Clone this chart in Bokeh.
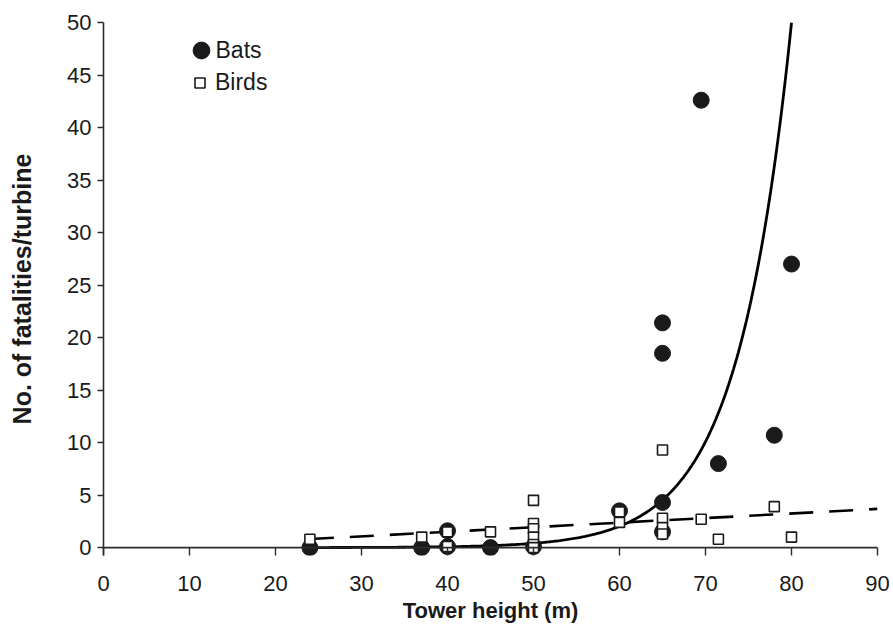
import numpy as np
from bokeh.plotting import figure
from bokeh.models import Range1d, Legend, LegendItem, FixedTicker, Span, Label
from bokeh.embed import file_html
from bokeh.resources import INLINE

# ---- data ----
bat_height = [24, 37, 40, 40, 45, 50, 60, 65, 65, 65, 65, 69.5, 71.5, 78, 80]
bat_fatal = [0.0, 0.0, 1.6, 0.1, 0.0, 0.1, 3.5, 1.5, 4.3, 18.5, 21.4, 42.6, 8.0, 10.7, 27.0]

bird_height = [24, 37, 40, 40, 45, 50, 50, 50, 50, 50, 50, 60, 60, 65, 65, 65, 65, 69.5, 71.5, 78, 80]
bird_fatal = [0.8, 1.0, 1.5, 0.1, 1.5, 4.5, 2.3, 1.8, 1.0, 0.3, 0.0, 3.4, 2.4, 9.3, 2.8, 1.9, 1.3, 2.7, 0.8, 3.9, 1.0]

# fitted trend lines shown in the figure
bat_fit_a = 1.38e-4      # y = a * exp(b * x)
bat_fit_b = 0.16
bird_fit_slope = 0.0435  # y = slope * x + intercept
bird_fit_intercept = -0.23

x_ticks = [0, 10, 20, 30, 40, 50, 60, 70, 80, 90]
y_ticks = [0, 5, 10, 15, 20, 25, 30, 35, 40, 45, 50]
series_names = ["Bats", "Birds"]

FONT = "'Liberation Sans', Arial, sans-serif"
TXT = "#1a1a1a"
AX = "#2b2b2b"

p = figure(width=890, height=636, output_backend="svg", toolbar_location=None,
           x_range=Range1d(0, 90), y_range=Range1d(-0.75, 50),
           min_border_left=103, min_border_right=13, min_border_top=22, min_border_bottom=81)
p.outline_line_color = None
p.grid.visible = False
p.background_fill_color = "white"
p.border_fill_color = "white"

# x baseline at zero
p.add_layout(Span(location=0, dimension="width", line_color=AX, line_width=1.6))

# trend lines
x_bat = np.linspace(min(bat_height), np.log(50 / bat_fit_a) / bat_fit_b, 300)
y_bat = bat_fit_a * np.exp(bat_fit_b * x_bat)
p.line(x_bat, y_bat, line_color="black", line_width=2.8)

x_bird = np.array([min(bird_height), 90])
y_bird = bird_fit_slope * x_bird + bird_fit_intercept
p.line(x_bird, y_bird, line_color="black", line_width=2.6, line_dash="24 16")

# points
r_bats = p.scatter(bat_height, bat_fatal, marker="circle", size=16,
                   fill_color="#1a1a1a", line_color="#1a1a1a", line_width=1)
r_birds = p.scatter(bird_height, bird_fatal, marker="square", size=10,
                    fill_color="white", line_color="#1a1a1a", line_width=1.6)

common = dict(padding=0, margin=0, border_line_color=None, background_fill_alpha=0,
              label_text_font=FONT, label_text_font_size="23px", label_text_color=TXT)
leg_bats = Legend(items=[LegendItem(label="", renderers=[r_bats])],
                  location=(77, 484), glyph_width=42, glyph_height=42,
                  label_height=20, label_standoff=0, **common)
leg_birds = Legend(items=[LegendItem(label=series_names[1], renderers=[r_birds])],
                   location=(84, 459), glyph_width=25, glyph_height=25,
                   label_height=20, label_standoff=3, **common)
p.add_layout(leg_bats, "center")
p.add_layout(leg_birds, "center")
p.add_layout(Label(x=112, y=506, x_units="screen", y_units="screen", text=series_names[0],
                   text_font=FONT, text_font_size="23px", text_color=TXT,
                   text_baseline="middle", text_align="left"))

# axes
xa = p.xaxis[0]
xa.ticker = FixedTicker(ticks=x_ticks)
xa.axis_label = "Tower height (m)"
xa.axis_line_color = None
xa.major_tick_in = 8
xa.major_tick_out = 0
xa.minor_tick_out = 0
xa.minor_tick_in = 0
xa.major_label_standoff = 20
xa.axis_label_standoff = 4

ya = p.yaxis[0]
ya.ticker = FixedTicker(ticks=y_ticks)
ya.axis_label = "No. of fatalities/turbine"
ya.axis_line_color = AX
ya.axis_line_width = 1.6
ya.major_tick_out = 6
ya.major_tick_in = 0
ya.minor_tick_out = 0
ya.minor_tick_in = 0
ya.major_label_standoff = 6
ya.axis_label_standoff = 28

for ax in (xa, ya):
    ax.major_tick_line_color = AX
    ax.major_tick_line_width = 1.4
    ax.major_label_text_font = FONT
    ax.major_label_text_font_size = "22px"
    ax.major_label_text_color = TXT
    ax.axis_label_text_font = FONT
    ax.axis_label_text_font_style = "bold"
    ax.axis_label_text_color = TXT
xa.axis_label_text_font_size = "22px"
ya.axis_label_text_font_size = "25px"

open("out.html", "w").write(file_html(p, INLINE))
